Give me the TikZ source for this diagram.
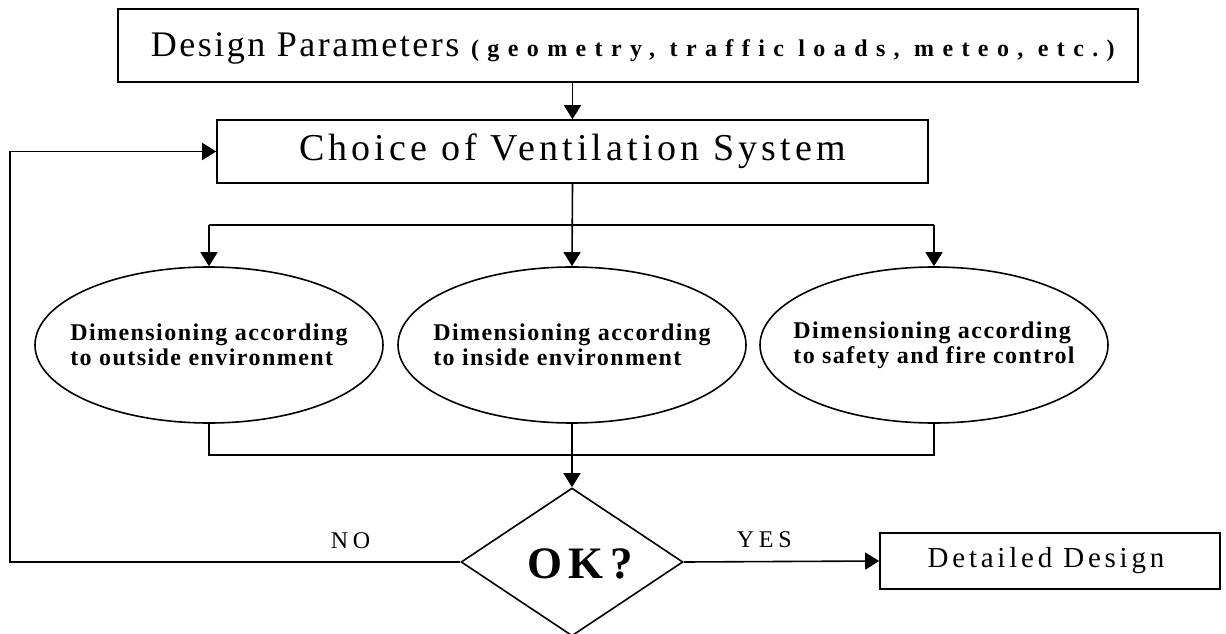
\documentclass[tikz,border=0pt]{standalone}
\usepackage{fontspec}
\setmainfont{Liberation Serif}
\usetikzlibrary{shapes.geometric,arrows.meta}
\newfontfamily\fDP[LetterSpace=7]{Liberation Serif}
\newfontfamily\fPar[LetterSpace=35]{Liberation Serif}
\newfontfamily\fCh[LetterSpace=11]{Liberation Serif}
\newfontfamily\fEl[LetterSpace=6]{Liberation Serif}
\newfontfamily\fOK[LetterSpace=15]{Liberation Serif}
\newfontfamily\fDet[LetterSpace=13]{Liberation Serif}
\newfontfamily\fLab[LetterSpace=20]{Liberation Serif}
\begin{document}
\begin{tikzpicture}[x=1pt,y=-1pt,
  line width=1.6pt,
  box/.style={draw, rectangle, inner sep=0pt},
  ell/.style={draw, ellipse, inner sep=0pt, minimum width=348pt, minimum height=156pt},
  eltext/.style={align=left, inner sep=0pt, font=\fEl\bfseries\fontsize{24}{25}\selectfont},
  arr/.style={-{Triangle[length=14pt,width=17pt]}},
  lab/.style={font=\fLab\fontsize{24}{26}\selectfont, inner sep=0pt}]
\useasboundingbox (0,0) rectangle (1226,634);
\node[box, minimum width=1020pt, minimum height=73pt] (dp) at (628,45.5) {};
\node[anchor=base west, inner sep=0pt] (dpt) at (150,57)
  {\fDP\fontsize{36}{40}\selectfont Design Parameters \fPar\bfseries\fontsize{24}{26}\selectfont(geometry, traffic loads, meteo, etc.)};
\node[box, minimum width=711pt, minimum height=63pt, font=\fCh\fontsize{38}{40}\selectfont] (ch) at (572.5,151.5) {Choice of Ventilation System};
\node[ell, label={[eltext]center:Dimensioning according\\to outside environment}] (e1) at (209,345) {};
\node[ell, label={[eltext]center:Dimensioning according\\to inside environment}] (e2) at (572,345) {};
\node[ell, label={[eltext]center:Dimensioning according\\to safety and fire control}] (e3) at (934,345) {};
\node[draw, diamond, inner sep=0pt, minimum width=222pt, minimum height=148pt,
  label={[font=\fOK\bfseries\fontsize{45}{48}\selectfont, inner sep=0pt, xshift=8pt, yshift=-2pt]center:OK?}] (ok) at (572,562) {};
\node[box, minimum width=340pt, minimum height=56pt, font=\fDet\fontsize{29}{32}\selectfont] (det) at (1050,561) {\hspace*{-8pt}Detailed Design};
\coordinate (br) at (572,225);
\coordinate (bar) at (572,455);
\coordinate (fb) at (10,562);
\draw[arr] (ch.north |- dp.south) -- (ch.north);
\draw (e1.north |- br) -- (e3.north |- br);
\draw[arr] (e1.north |- br) -- (e1.north);
\draw[arr] (e3.north |- br) -- (e3.north);
\draw[arr] (ch.south) -- (e2.north);
\draw (e1.south) -- (e1.south |- bar) -- (e3.south |- bar) -- (e3.south);
\draw[arr] (e2.south) -- (ok.north);
\draw[arr] (ok.west) -- (fb) |- (ch.west);
\draw[arr] (ok.east) -- (det.west);
\node[lab, anchor=base west] (no) at (330,548) {NO};
\node[lab, anchor=base west] (yes) at (736,547) {YES};
\end{tikzpicture}
\end{document}
